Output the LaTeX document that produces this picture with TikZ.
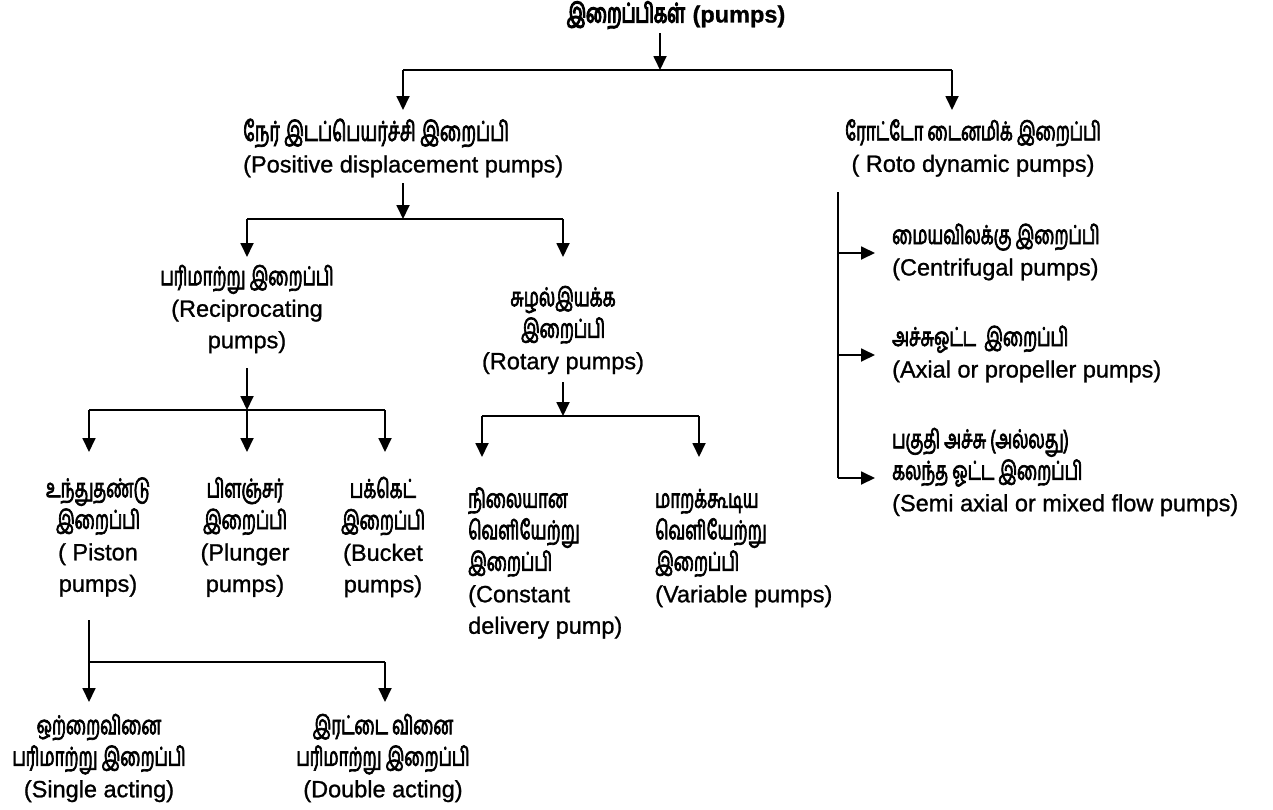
\documentclass[tikz,border=0pt]{standalone}
\usepackage{fontspec}
\setmainfont{Liberation Sans}[FakeBold=1.0]
\newfontfamily\ta[Script=Tamil, FakeStretch=0.65, FakeBold=2.6]{Hind Madurai}
\newfontfamily\tabold[Script=Tamil, FakeStretch=0.65, FakeBold=4.5]{Hind Madurai}
\usetikzlibrary{arrows.meta}
\newcommand\tm[1]{{\ta\fontsize{26}{31.5}\selectfont #1}}
\begin{document}
\begin{tikzpicture}[x=1pt,y=-1pt,
  lbl/.style={inner sep=0pt, align=center, font=\fontsize{23.5}{31.5}\selectfont},
  lbll/.style={lbl, align=left, anchor=west},
  ln/.style={line width=1.8pt},
  arr/.style={ln, -{Triangle[width=13pt,length=14pt]}}]
\useasboundingbox (0,0) rectangle (1273,809);
\fill[white] (0,0) rectangle (1273,809);
% nodes
\node[lbl] (title) at (676,15) {{\tabold\fontsize{27}{31.5}\selectfont இறைப்பிகள்} \textbf{(pumps)}};
\node[lbll] (pd) at (243,148) {{\ta\fontsize{27.5}{31.5}\selectfont நேர் இடப்பெயர்ச்சி இறைப்பி}\\(Positive displacement pumps)};
\node[lbl] (roto) at (973,148) {\tm{ரோட்டோ டைனமிக் இறைப்பி}\\( Roto dynamic pumps)};
\node[lbl] (recip) at (247,309) {\tm{பரிமாற்று இறைப்பி}\\(Reciprocating\\pumps)};
\node[lbl] (rotary) at (563,330) {\tm{சுழல்இயக்க}\\\tm{இறைப்பி}\\(Rotary pumps)};
\node[lbl] (piston) at (98,537) {\tm{உந்துதண்டு}\\\tm{இறைப்பி}\\( Piston\\pumps)};
\node[lbl] (plunger) at (245,537) {\tm{பிளஞ்சர்}\\\tm{இறைப்பி}\\(Plunger\\pumps)};
\node[lbl] (bucket) at (383,537) {\tm{பக்கெட்}\\\tm{இறைப்பி}\\(Bucket\\pumps)};
\node[lbll] (const) at (468,563) {\tm{நிலையான}\\\tm{வெளியேற்று}\\\tm{இறைப்பி}\\(Constant\\delivery pump)};
\node[lbll] (var) at (655,548) {\tm{மாறக்கூடிய}\\\tm{வெளியேற்று}\\\tm{இறைப்பி}\\(Variable pumps)};
\node[lbl] (single) at (99,758) {\tm{ஒற்றைவினை}\\\tm{பரிமாற்று இறைப்பி}\\(Single acting)};
\node[lbl] (double) at (383,758) {\tm{இரட்டை வினை}\\\tm{பரிமாற்று இறைப்பி}\\(Double acting)};
\node[lbll] (centri) at (892,252) {\tm{மையவிலக்கு இறைப்பி}\\(Centrifugal pumps)};
\node[lbll] (axial) at (892,354) {\tm{அச்சுஓட்ட\ \ இறைப்பி}\\(Axial or propeller pumps)};
\node[lbll] (semi) at (892,472) {\tm{பகுதி அச்சு (அல்லது)}\\\tm{கலந்த ஓட்ட இறைப்பி}\\(Semi axial or mixed flow pumps)};
% junction coordinates
\coordinate (a0) at (660,33);
\coordinate (a1) at (660,70);
\coordinate (aL) at (403,70);
\coordinate (aR) at (952,70);
\coordinate (aLt) at (403,110);
\coordinate (aRt) at (952,110);
\coordinate (b0) at (403,183);
\coordinate (b1) at (403,219);
\coordinate (bL) at (247,219);
\coordinate (bR) at (563,219);
\coordinate (bLt) at (247,257);
\coordinate (bRt) at (563,257);
\coordinate (c0) at (247,368);
\coordinate (c1) at (247,410);
\coordinate (cL) at (89,410);
\coordinate (cR) at (385,410);
\coordinate (cLt) at (89,452);
\coordinate (cMt) at (247,452);
\coordinate (cRt) at (385,452);
\coordinate (d0) at (563,382);
\coordinate (d1) at (563,416);
\coordinate (dL) at (482,416);
\coordinate (dR) at (699,416);
\coordinate (dLt) at (482,457);
\coordinate (dRt) at (699,457);
\coordinate (e0) at (89,620);
\coordinate (e1) at (89,662);
\coordinate (eR) at (385,662);
\coordinate (eLt) at (89,702);
\coordinate (eRt) at (385,702);
\coordinate (f0) at (838,192);
\coordinate (f1) at (838,253);
\coordinate (f2) at (838,355);
\coordinate (f3) at (838,478);
\coordinate (f1t) at (875,253);
\coordinate (f2t) at (875,355);
\coordinate (f3t) at (875,478);
% connectors
\draw[arr] (a0) -- (a1);
\draw[ln] (aL) -- (aR);
\draw[arr] (aL) -- (aLt);
\draw[arr] (aR) -- (aRt);
\draw[arr] (b0) -- (b1);
\draw[ln] (bL) -- (bR);
\draw[arr] (bL) -- (bLt);
\draw[arr] (bR) -- (bRt);
\draw[arr] (c0) -- (c1);
\draw[ln] (cL) -- (cR);
\draw[arr] (cL) -- (cLt);
\draw[arr] (c1) -- (cMt);
\draw[arr] (cR) -- (cRt);
\draw[arr] (d0) -- (d1);
\draw[ln] (dL) -- (dR);
\draw[arr] (dL) -- (dLt);
\draw[arr] (dR) -- (dRt);
\draw[ln] (e0) -- (e1) -- (eR);
\draw[arr] (e1) -- (eLt);
\draw[arr] (eR) -- (eRt);
\draw[ln] (f0) -- (f3);
\draw[arr] (f1) -- (f1t);
\draw[arr] (f2) -- (f2t);
\draw[arr] (f3) -- (f3t);
\end{tikzpicture}
\end{document}
